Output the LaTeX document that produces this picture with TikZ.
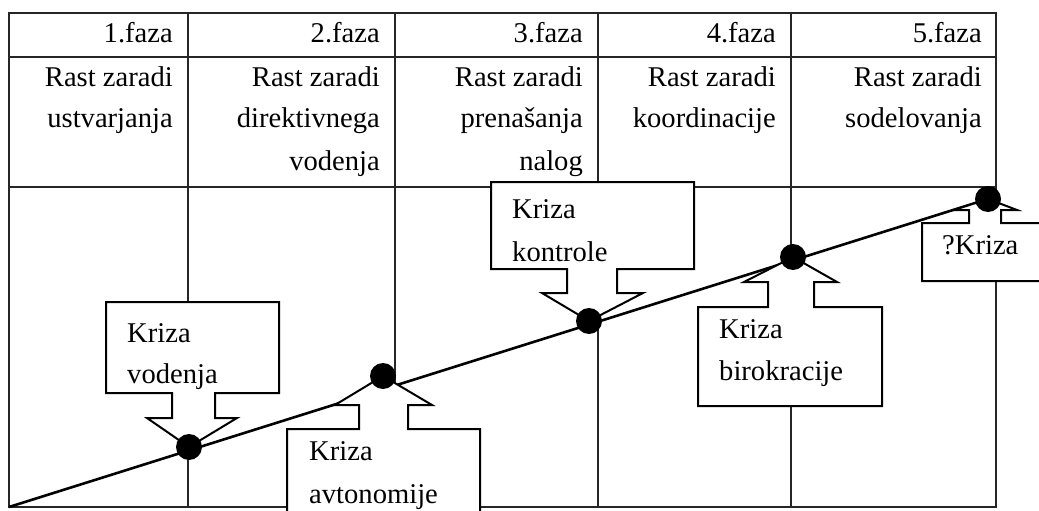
\documentclass[tikz,border=0pt]{standalone}
\usepackage{fontspec}
\setmainfont{Liberation Serif}
\begin{document}
\begin{tikzpicture}[x=1pt,y=-1pt,
  tbl/.style={line width=1.4pt, black!85},
  callout/.style={draw, fill=white, line width=2pt, line join=miter},
  mainline/.style={line width=2.6pt},
  blob/.style={fill=black},
  txt/.style={inner sep=0pt, font=\fontsize{28.6}{33}\selectfont}]
\useasboundingbox (0,0) rectangle (1039,511);
\clip (0,0) rectangle (1039,511);
% table
\draw[tbl] (9,13) rectangle (996,507);
\draw[tbl] (9,57) -- (996,57);
\draw[tbl] (9,187) -- (996,187);
\foreach \x in {188,395,598,791} \draw[tbl] (\x,13) -- (\x,507);
% header texts
\node[txt, anchor=base east] (h1) at (173,43) {1.faza};
\node[txt, anchor=base east] (h2) at (380,43) {2.faza};
\node[txt, anchor=base east] (h3) at (583,43) {3.faza};
\node[txt, anchor=base east] (h4) at (776,43) {4.faza};
\node[txt, anchor=base east] (h5) at (982,43) {5.faza};
\node[txt, anchor=base east] (a1) at (173,86) {Rast zaradi};
\node[txt, anchor=base east] (a2) at (173,128) {ustvarjanja};
\node[txt, anchor=base east] (b1) at (380,86) {Rast zaradi};
\node[txt, anchor=base east] (b2) at (380,128) {direktivnega};
\node[txt, anchor=base east] (b3) at (380,170) {vodenja};
\node[txt, anchor=base east] (c1) at (583,86) {Rast zaradi};
\node[txt, anchor=base east] (c2) at (583,128) {prenašanja};
\node[txt, anchor=base east] (c3) at (583,170) {nalog};
\node[txt, anchor=base east] (e1) at (776,86) {Rast zaradi};
\node[txt, anchor=base east] (e2) at (776,128) {koordinacije};
\node[txt, anchor=base east] (f1) at (982,86) {Rast zaradi};
\node[txt, anchor=base east] (f2) at (982,128) {sodelovanja};
% main line
\coordinate (start) at (9,507);
\coordinate (d1) at (189,447);
\coordinate (d2) at (383,376);
\coordinate (d3) at (589,321);
\coordinate (d4) at (793,257);
\coordinate (d5) at (988,199);
\draw[mainline] (start) -- (d5);
% callouts
\draw[callout] (106,302) -- (279,302) -- (279,393) -- (215,393) -- (215,418) -- (237,418)
  -- (d1) -- (147,418) -- (172,418) -- (172,393) -- (106,393) -- cycle;
\draw[callout] (287,429) -- (359,429) -- (359,405) -- (335,405) -- (d2) -- (432,405)
  -- (408,405) -- (408,429) -- (480,429) -- (480,540) -- (287,540) -- cycle;
\draw[callout] (491,182) -- (694,182) -- (694,269) -- (617,269) -- (617,293) -- (643,293)
  -- (d3) -- (542,293) -- (567,293) -- (567,269) -- (491,269) -- cycle;
\draw[callout] (698,307) -- (768,307) -- (768,282) -- (744,282) -- (d4) -- (837,282)
  -- (814,282) -- (814,307) -- (882,307) -- (882,406) -- (698,406) -- cycle;
\draw[callout] (922,223) -- (969,223) -- (969,210) -- (954,210) -- (d5) -- (1017,210)
  -- (1001,210) -- (1001,223) -- (1060,223) -- (1060,281) -- (922,281) -- cycle;
% dots
\foreach \d in {d1,d2,d3,d4,d5} \fill[blob] (\d) circle (13pt);
% callout texts
\node[txt, anchor=base west] (k1a) at (127,342) {Kriza};
\node[txt, anchor=base west] (k1b) at (127,383) {vodenja};
\node[txt, anchor=base west] (k2a) at (309,460) {Kriza};
\node[txt, anchor=base west] (k2b) at (309,503) {avtonomije};
\node[txt, anchor=base west] (k3a) at (512,218) {Kriza};
\node[txt, anchor=base west] (k3b) at (512,261) {kontrole};
\node[txt, anchor=base west] (k4a) at (719,338) {Kriza};
\node[txt, anchor=base west] (k4b) at (719,380) {birokracije};
\node[txt, anchor=base west] (k5a) at (942,254) {?Kriza};
\end{tikzpicture}
\end{document}
